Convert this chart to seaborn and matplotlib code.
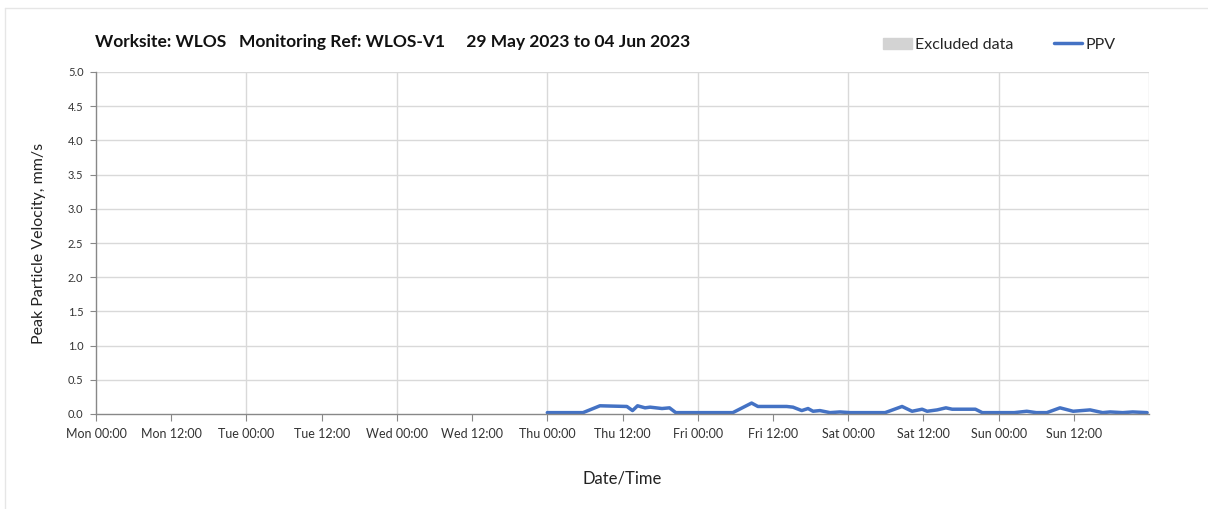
import numpy as np
import pandas as pd
import matplotlib
matplotlib.use('Agg')
import matplotlib.pyplot as plt
import matplotlib.patches as mpatches
from matplotlib.lines import Line2D
import seaborn as sns

# hours since Mon 00:00 and PPV readings (mm/s)
hours = [72, 77.7, 80.4, 84.7, 85.6, 86.4, 87.6, 88.4, 90.3, 91.5, 92.5,
         101.6, 104.6, 105.6, 110.2, 111.2, 112.6, 113.6, 114.4, 115.5,
         117.1, 118.7, 120.3, 125.9, 128.6, 130.2, 131.8, 132.6, 134.2,
         135.6, 136.6, 140.3, 141.4, 146.5, 148.5, 150.0, 151.7, 153.8,
         155.9, 158.6, 160.6, 161.8, 163.8, 165.4, 167.7]
ppv = [0.02, 0.02, 0.12, 0.11, 0.05, 0.12, 0.09, 0.10, 0.08, 0.09, 0.02,
       0.02, 0.16, 0.11, 0.11, 0.10, 0.05, 0.08, 0.04, 0.05,
       0.02, 0.03, 0.02, 0.02, 0.11, 0.04, 0.07, 0.04, 0.06,
       0.09, 0.07, 0.07, 0.02, 0.02, 0.04, 0.02, 0.02, 0.09,
       0.04, 0.06, 0.02, 0.03, 0.02, 0.03, 0.02]

days = ['Mon', 'Tue', 'Wed', 'Thu', 'Fri', 'Sat', 'Sun']
tick_labels = [f'{d} {t}' for d in days for t in ['00:00', '12:00']]
tick_hours = list(range(0, 168, 12))

df = pd.DataFrame({'hour': hours, 'ppv': ppv})

sns.set_style('white')
plt.rcParams['font.family'] = ['Lato', 'DejaVu Sans']

fig = plt.figure(figsize=(12.08, 5.09), dpi=100)
ax = fig.add_axes([96 / 1208, 1 - 414 / 509, (1149 - 96) / 1208, (414 - 72) / 509])

sns.lineplot(df, x='hour', y='ppv', ax=ax, color='#4472C4', linewidth=2.5)

ax.set_xlim(0, 168)
ax.set_ylim(0, 5)
ax.set_yticks(np.arange(0, 5.01, 0.5))
ax.set_yticklabels([f'{v:.1f}' for v in np.arange(0, 5.01, 0.5)], fontsize=8, color='#333333')
ax.set_xticks(tick_hours)
ax.set_xticklabels(tick_labels, fontsize=9, color='#333333')
ax.grid(False)
for h in range(24, 169, 24):
    ax.axvline(h, color='#d9d9d9', linewidth=1, zorder=0)
for v in np.arange(0.5, 5.01, 0.5):
    ax.axhline(v, color='#d9d9d9', linewidth=1, zorder=0)
ax.tick_params(axis='x', which='major', direction='out', length=5, color='#888888', bottom=True, pad=5)
ax.tick_params(axis='y', direction='out', length=4, color='#888888', left=True, pad=5)
for side in ['top', 'right']:
    ax.spines[side].set_visible(False)
for side in ['left', 'bottom']:
    ax.spines[side].set_color('#888888')
    ax.spines[side].set_linewidth(1)

ax.set_xlabel('Date/Time', fontsize=12, color='#222222', labelpad=22)
ax.set_ylabel('Peak Particle Velocity, mm/s', fontsize=11.5, color='#222222', labelpad=16)

fig.text(95 / 1208, 1 - 42 / 509,
         'Worksite: WLOS   Monitoring Ref: WLOS-V1     29 May 2023 to 04 Jun 2023',
         fontsize=12.5, fontweight='bold', va='center', ha='left', color='#111111')

handles = [mpatches.Patch(color='#d3d3d3', label='Excluded data'),
           Line2D([0], [0], color='#4472C4', linewidth=2.5, label='PPV')]
fig.legend(handles=handles, loc='center right', bbox_to_anchor=(1130 / 1208, 1 - 45 / 509),
           ncol=2, frameon=False, fontsize=11.5, handlelength=1.8, handletextpad=0.2,
           columnspacing=2.5)

# faint outer border of the chart panel
fig.add_artist(Line2D([5 / 1208, 5 / 1208], [0, 1 - 8 / 509], transform=fig.transFigure,
                      color='#e6e6e6', linewidth=1))
fig.add_artist(Line2D([5 / 1208, 1], [1 - 8 / 509, 1 - 8 / 509], transform=fig.transFigure,
                      color='#e6e6e6', linewidth=1))

fig.savefig('out.png', dpi=100)
